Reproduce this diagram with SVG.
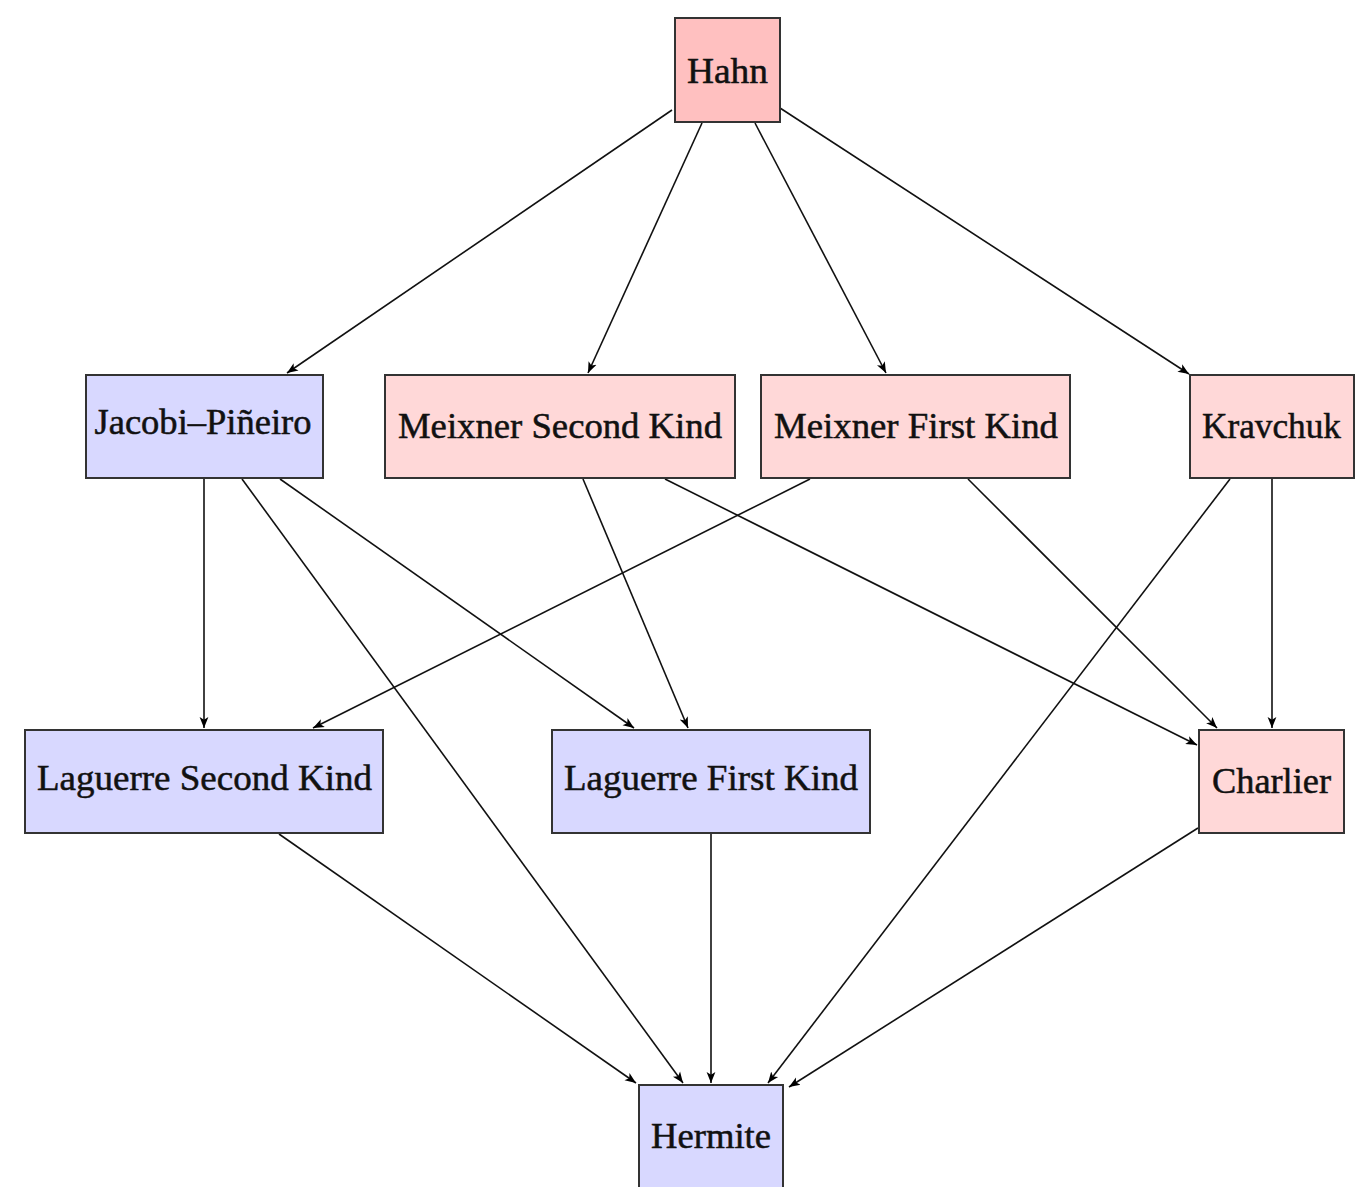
<svg xmlns="http://www.w3.org/2000/svg" width="1367" height="1187" viewBox="0 0 1367 1187">
<defs>
<marker id="ah" viewBox="0 0 10 10" refX="10" refY="5" markerWidth="11" markerHeight="11" markerUnits="userSpaceOnUse" orient="auto">
<path d="M0,1 L10,5 L0,9 L2.5,5 Z" fill="#000"/>
</marker>
<style>
.box{stroke:#333;stroke-width:2}
.red{fill:#ffd8d8}
.hahn{fill:#ffc0c0}
.blue{fill:#d8d8ff}
text{font-family:"Liberation Serif",serif;font-size:35px;fill:#111;stroke:#111;stroke-width:0.5;text-anchor:middle}
.e{stroke:#111;stroke-width:1.6;fill:none;marker-end:url(#ah)}
</style>
</defs>
<rect width="1367" height="1187" fill="#fff"/>
<g id="connectors">
<line class="e" x1="672" y1="110" x2="287" y2="373"/>
<line class="e" x1="702" y1="123" x2="588" y2="373"/>
<line class="e" x1="755" y1="123" x2="886" y2="373"/>
<line class="e" x1="780" y1="108" x2="1189" y2="374"/>
<line class="e" x1="204" y1="479" x2="204" y2="728"/>
<line class="e" x1="242" y1="479" x2="683" y2="1083"/>
<line class="e" x1="280" y1="479" x2="634" y2="728"/>
<line class="e" x1="583" y1="479" x2="688" y2="728"/>
<line class="e" x1="665" y1="479" x2="1197" y2="745"/>
<line class="e" x1="810" y1="479" x2="313" y2="728"/>
<line class="e" x1="968" y1="479" x2="1217" y2="728"/>
<line class="e" x1="1230" y1="479" x2="768" y2="1083"/>
<line class="e" x1="1272" y1="479" x2="1272" y2="728"/>
<line class="e" x1="279" y1="834" x2="636" y2="1083"/>
<line class="e" x1="711" y1="834" x2="711" y2="1083"/>
<line class="e" x1="1198" y1="828" x2="789" y2="1087"/>
</g>
<g id="hahn"><rect class="box hahn" x="675" y="18" width="105" height="104"/><text x="727.5" y="83" textLength="81" lengthAdjust="spacingAndGlyphs">Hahn</text></g>
<g id="jacobi"><rect class="box blue" x="86" y="375" width="237" height="103"/><text x="203" y="434" textLength="217" lengthAdjust="spacingAndGlyphs">Jacobi–Piñeiro</text></g>
<g id="meixner2"><rect class="box red" x="385" y="375" width="350" height="103"/><text x="560" y="438" textLength="324" lengthAdjust="spacingAndGlyphs">Meixner Second Kind</text></g>
<g id="meixner1"><rect class="box red" x="761" y="375" width="309" height="103"/><text x="916" y="438" textLength="284" lengthAdjust="spacingAndGlyphs">Meixner First Kind</text></g>
<g id="kravchuk"><rect class="box red" x="1190" y="375" width="164" height="103"/><text x="1271.5" y="438" textLength="139" lengthAdjust="spacingAndGlyphs">Kravchuk</text></g>
<g id="laguerre2"><rect class="box blue" x="25" y="730" width="358" height="103"/><text x="204.5" y="790" textLength="335" lengthAdjust="spacingAndGlyphs">Laguerre Second Kind</text></g>
<g id="laguerre1"><rect class="box blue" x="552" y="730" width="318" height="103"/><text x="711" y="790" textLength="294" lengthAdjust="spacingAndGlyphs">Laguerre First Kind</text></g>
<g id="charlier"><rect class="box red" x="1199" y="730" width="145" height="103"/><text x="1271.5" y="793" textLength="119" lengthAdjust="spacingAndGlyphs">Charlier</text></g>
<g id="hermite"><rect class="box blue" x="639" y="1085" width="144" height="110"/><text x="711" y="1148" textLength="120" lengthAdjust="spacingAndGlyphs">Hermite</text></g>
</svg>
